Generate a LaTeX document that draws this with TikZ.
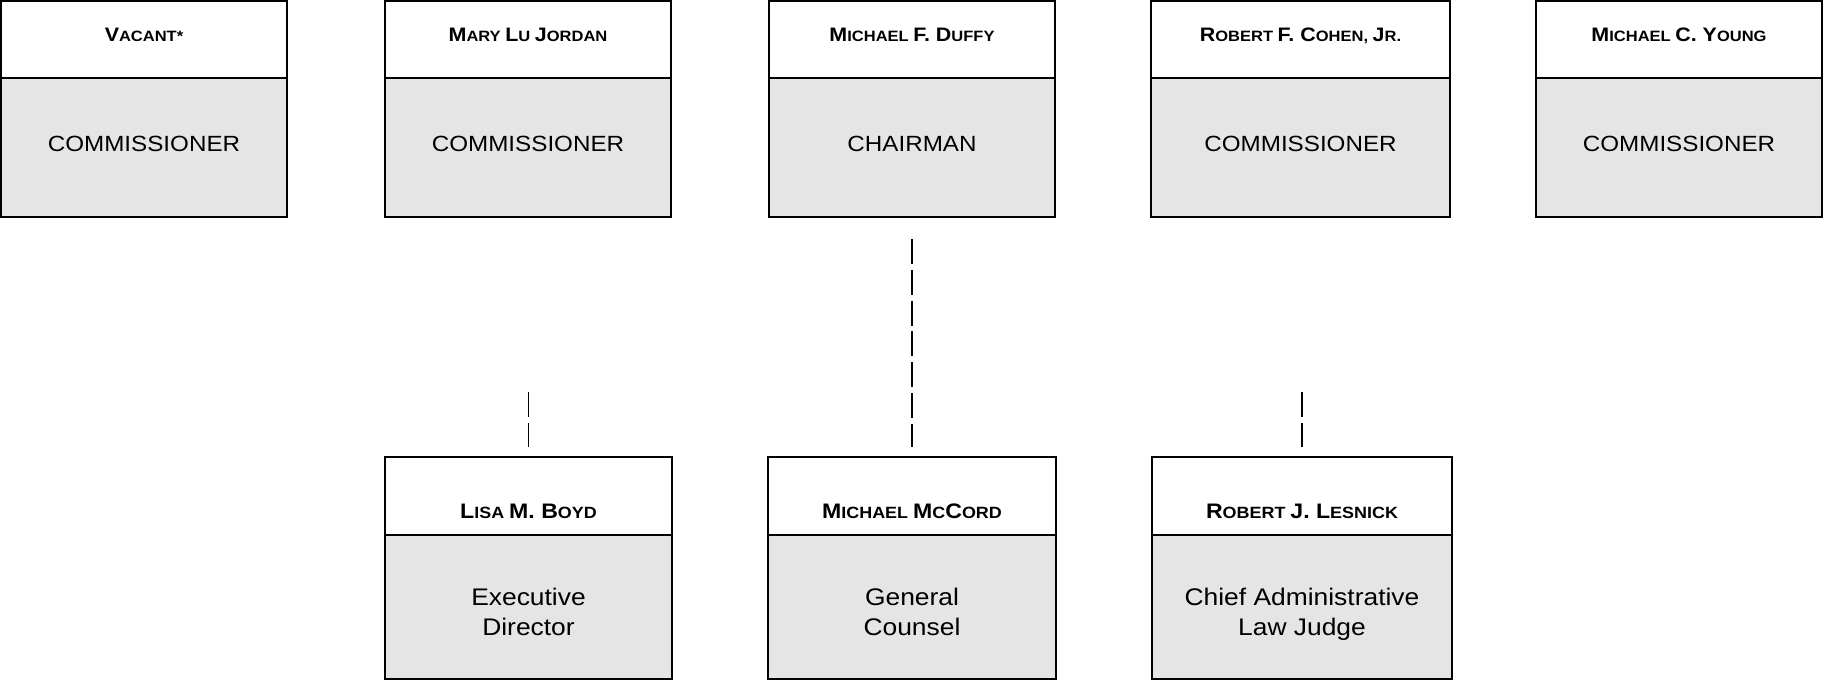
\documentclass[tikz,border=0pt]{standalone}
\usepackage{fontspec}
\setmainfont{Liberation Sans}[FakeStretch=1.1]
\newcommand\hb{\fontsize{19.5}{20}\selectfont}
\newcommand\hs{\fontsize{15}{16}\selectfont}
\newcommand\lb{\fontsize{21}{22}\selectfont}
\newcommand\ls{\fontsize{16.3}{17}\selectfont}
\tikzset{
  hd/.style={draw, line width=2pt, fill=white, inner sep=0pt},
  bd/.style={draw, line width=2pt, fill=gray!20, inner sep=0pt},
  nm/.style={anchor=base, inner sep=0pt, font=\bfseries},
  tt/.style={anchor=base, inner sep=0pt, font=\fontsize{22}{26}\selectfont},
  bt/.style={anchor=base, inner sep=0pt, align=center, font=\fontsize{24}{29.5}\selectfont},
  link/.style={line width=1.3pt, dash pattern=on 25pt off 5.83pt}
}
\begin{document}
\begin{tikzpicture}[x=1pt,y=-1pt]
\useasboundingbox (0,0) rectangle (1823,681);
% top row
\node[bd, minimum width=286, minimum height=139] (b1) at (144,147.5) {};
\node[hd, minimum width=286, minimum height=77] (h1) at (144,39.5) {};
\node[bd, minimum width=286, minimum height=139] (b2) at (528,147.5) {};
\node[hd, minimum width=286, minimum height=77] (h2) at (528,39.5) {};
\node[bd, minimum width=286, minimum height=139] (b3) at (912,147.5) {};
\node[hd, minimum width=286, minimum height=77] (h3) at (912,39.5) {};
\node[bd, minimum width=299, minimum height=139] (b4) at (1300.5,147.5) {};
\node[hd, minimum width=299, minimum height=77] (h4) at (1300.5,39.5) {};
\node[bd, minimum width=286, minimum height=139] (b5) at (1679,147.5) {};
\node[hd, minimum width=286, minimum height=77] (h5) at (1679,39.5) {};
\node[nm] (n1) at (144,41) {\hb V\hs ACANT*};
\node[nm] (n2) at (528,41) {\hb M\hs ARY \hb L\hs U \hb J\hs ORDAN};
\node[nm] (n3) at (912,41) {\hb M\hs ICHAEL \hb F. D\hs UFFY};
\node[nm] (n4) at (1300.5,41) {\hb R\hs OBERT \hb F. C\hs OHEN, \hb J\hs R.};
\node[nm] (n5) at (1679,41) {\hb M\hs ICHAEL \hb C. Y\hs OUNG};
\node[tt] (r1) at (144,151) {COMMISSIONER};
\node[tt] (r2) at (528,151) {COMMISSIONER};
\node[tt] (r3) at (912,151) {CHAIRMAN};
\node[tt] (r4) at (1300.5,151) {COMMISSIONER};
\node[tt] (r5) at (1679,151) {COMMISSIONER};
% bottom row
\node[bd, minimum width=287, minimum height=144] (m1) at (528.5,607) {};
\node[hd, minimum width=287, minimum height=78] (k1) at (528.5,496) {};
\node[bd, minimum width=288, minimum height=144] (m2) at (912,607) {};
\node[hd, minimum width=288, minimum height=78] (k2) at (912,496) {};
\node[bd, minimum width=300, minimum height=144] (m3) at (1302,607) {};
\node[hd, minimum width=300, minimum height=78] (k3) at (1302,496) {};
\node[nm] (p1) at (528.5,518) {\lb L\ls ISA \lb M. B\ls OYD};
\node[nm] (p2) at (912,518) {\lb M\ls ICHAEL \lb M\ls C\lb C\ls ORD};
\node[nm] (p3) at (1302,518) {\lb R\ls OBERT \lb J. L\ls ESNICK};
\node[bt] (q1) at (528.5,635) {Executive\\Director};
\node[bt] (q2) at (912,635) {General\\Counsel};
\node[bt] (q3) at (1302,635) {Chief Administrative\\Law Judge};
% connectors
\coordinate (u1) at (528.5,392);
\coordinate (u3) at (1302,392);
\draw[link, shorten <=21pt, shorten >=9pt] (b3.south) -- (k2.north);
\draw[link, shorten >=9pt] (u1) -- (k1.north);
\draw[link, shorten >=9pt] (u3) -- (k3.north);
\end{tikzpicture}
\end{document}
